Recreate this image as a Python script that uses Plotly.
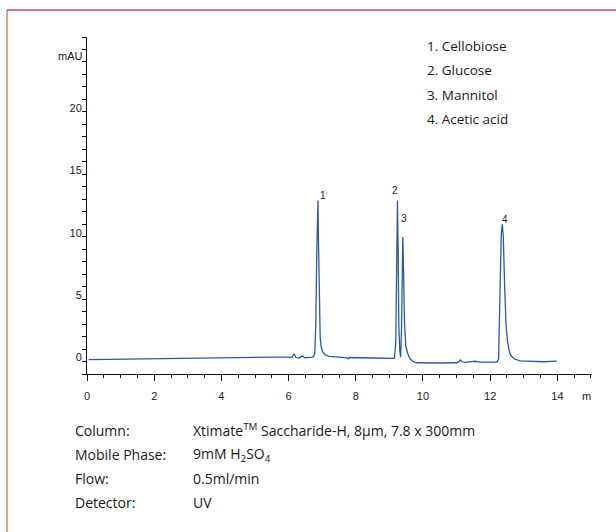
import plotly.graph_objects as go

# ---------------- data ----------------
time_min = [0.05, 0.5, 1.0, 1.5, 2.0, 2.5, 3.0, 3.5, 4.0, 4.5, 5.0, 5.5, 6.0,
            6.10, 6.16, 6.22, 6.32, 6.41, 6.48, 6.60, 6.72, 6.78, 6.81, 6.84,
            6.86, 6.875, 6.89, 6.905, 6.92, 6.94, 6.97, 7.01, 7.08, 7.2, 7.4,
            7.6, 7.75, 7.78, 7.82, 8.5, 8.8, 9.0, 9.1, 9.15, 9.19, 9.215, 9.24,
            9.26, 9.28, 9.31, 9.335, 9.36, 9.385, 9.40, 9.42, 9.45, 9.49, 9.55,
            9.61, 9.7, 9.8, 10.0, 10.5, 11.0, 11.06, 11.11, 11.17, 11.25, 11.4,
            11.55, 11.7, 12.0, 12.2, 12.25, 12.29, 12.33, 12.36, 12.39, 12.43,
            12.47, 12.52, 12.58, 12.64, 12.72, 12.9, 13.2, 13.6, 13.98]
signal_mau = [0.15, 0.17, 0.2, 0.22, 0.25, 0.27, 0.28, 0.3, 0.3, 0.32, 0.33, 0.35, 0.35,
              0.33, 0.62, 0.32, 0.28, 0.45, 0.3, 0.33, 0.35, 0.6, 3.0, 9.0,
              12.9, 12.9, 9.5, 5.5, 3.2, 1.9, 1.2, 0.8, 0.55, 0.42, 0.38,
              0.35, 0.3, 0.22, 0.32, 0.28, 0.25, 0.22, 0.2, 0.25, 1.5, 8.0, 12.9,
              9.0, 3.0, 0.8, 0.35, 2.5, 8.0, 9.97, 7.5, 3.0, 1.2, 0.6,
              0.25, 0.0, -0.1, -0.12, -0.12, -0.1, -0.05, 0.12, -0.02, -0.07, -0.05,
              0.02, -0.05, -0.06, -0.05, 0.2, 5.5, 10.2, 11.0, 10.0, 6.0,
              3.0, 1.5, 0.7, 0.4, 0.2, 0.05, 0.0, -0.02, 0.03]

peak_labels = ["1", "2", "3", "4"]
peak_times = [6.87, 9.24, 9.40, 12.36]
peak_heights = [12.9, 12.9, 9.97, 11.0]

compounds = ["1. Cellobiose", "2. Glucose", "3. Mannitol", "4. Acetic acid"]

cond_names = ["Column:", "Mobile Phase:", "Flow:", "Detector:"]
cond_values = ["Xtimate<sup>TM</sup> Saccharide-H, 8μm, 7.8 x 300mm",
               "9mM H<sub>2</sub>SO<sub>4</sub>",
               "0.5ml/min",
               "UV"]

y_tick_vals = [0, 5, 10, 15, 20]
y_tick_text = ["0", "5", "10", "15", "20"]
x_tick_vals = [0, 2, 4, 6, 8, 10, 12, 14]
x_tick_text = ["0", "2", "4", "6", "8", "10", "12", "14"]
y_unit = "mAU"
x_unit = "m"

# ---------------- figure ----------------
W, H = 616, 532
L, R, T, B = 87, 24, 37, 158
pw, ph = W - L - R, H - T - B

def px_x(p):
    return (p - L) / pw

def px_y(p):
    return (H - B - p) / ph

fig = go.Figure()
fig.add_trace(go.Scatter(x=time_min, y=signal_mau, mode="lines",
                         line=dict(color="#2b58a8", width=1.3),
                         hoverinfo="skip", showlegend=False))

tick_font = dict(family="Liberation Sans, Arial, sans-serif", size=11, color="#1a1a1a")
list_font = dict(family="Open Sans, Noto Sans, sans-serif", size=13.5, color="#1a1a1a")
text_font = dict(family="Open Sans, Noto Sans, sans-serif", size=14, color="#1a1a1a")

fig.update_layout(
    width=W, height=H,
    margin=dict(l=L, r=R, t=T, b=B),
    paper_bgcolor="white", plot_bgcolor="white",
    showlegend=False,
    xaxis=dict(range=[0, 15.03], showgrid=False, zeroline=False,
               showline=True, linecolor="#111111", linewidth=1,
               tickmode="array", tickvals=x_tick_vals, ticktext=x_tick_text,
               ticks="outside", ticklen=6, tickcolor="#111111", tickwidth=1,
               ticklabelstandoff=6,
               minor=dict(dtick=0.5, tick0=0, ticks="outside", ticklen=3,
                          tickcolor="#111111", tickwidth=1, showgrid=False),
               tickfont=tick_font),
    yaxis=dict(range=[-1, 26], showgrid=False, zeroline=False,
               showline=True, linecolor="#111111", linewidth=1,
               tickmode="array", tickvals=y_tick_vals, ticktext=y_tick_text,
               ticks="outside", ticklen=4, tickcolor="#111111", tickwidth=1,
               ticklabelshift=-4, ticklabelstandoff=-2,
               minor=dict(dtick=1, tick0=0, ticks="outside", ticklen=4,
                          tickcolor="#111111", tickwidth=1, showgrid=False),
               tickfont=tick_font),
)

annotations = []
# axis unit labels
annotations.append(dict(x=0, y=24.5, xref="x", yref="y", text=y_unit, showarrow=False,
                        xanchor="right", yanchor="middle", xshift=-2, font=tick_font))
annotations.append(dict(x=14.86, y=px_y(396), xref="x", yref="paper", text=x_unit,
                        showarrow=False, xanchor="center", yanchor="middle", font=tick_font))

# peak labels
shifts = [(5, 5), (-2, 10), (1, 19), (3, 5)]
for lab, t, h, (dx, dy) in zip(peak_labels, peak_times, peak_heights, shifts):
    annotations.append(dict(x=t, y=h, xref="x", yref="y", text=lab, showarrow=False,
                            xanchor="center", yanchor="middle", xshift=dx, yshift=dy,
                            font=dict(family="Liberation Sans, Arial, sans-serif",
                                      size=10, color="#222222")))

# compound list
for i, c in enumerate(compounds):
    annotations.append(dict(x=px_x(425), y=px_y(46 + 24.4 * i), xref="paper", yref="paper",
                            text=c, showarrow=False, xanchor="left", yanchor="middle",
                            font=list_font))

# conditions
for i, (n, v) in enumerate(zip(cond_names, cond_values)):
    yy = px_y(430 + 24 * i)
    annotations.append(dict(x=px_x(73), y=yy, xref="paper", yref="paper", text=n,
                            showarrow=False, xanchor="left", yanchor="middle", font=text_font))
    annotations.append(dict(x=px_x(191), y=yy, xref="paper", yref="paper", text=v,
                            showarrow=False, xanchor="left", yanchor="middle", font=text_font))

fig.update_layout(annotations=annotations)

# frame (top and left edges visible in the reference)
fig.add_shape(type="line", xref="paper", yref="paper",
              x0=px_x(7), x1=px_x(W + 2), y0=px_y(10), y1=px_y(10),
              line=dict(color="#cf7b80", width=2))
fig.add_shape(type="line", xref="paper", yref="paper",
              x0=px_x(7), x1=px_x(7), y0=px_y(10), y1=px_y(H + 2),
              line=dict(color="#c0393f", width=1))

fig.write_html("out.html")
